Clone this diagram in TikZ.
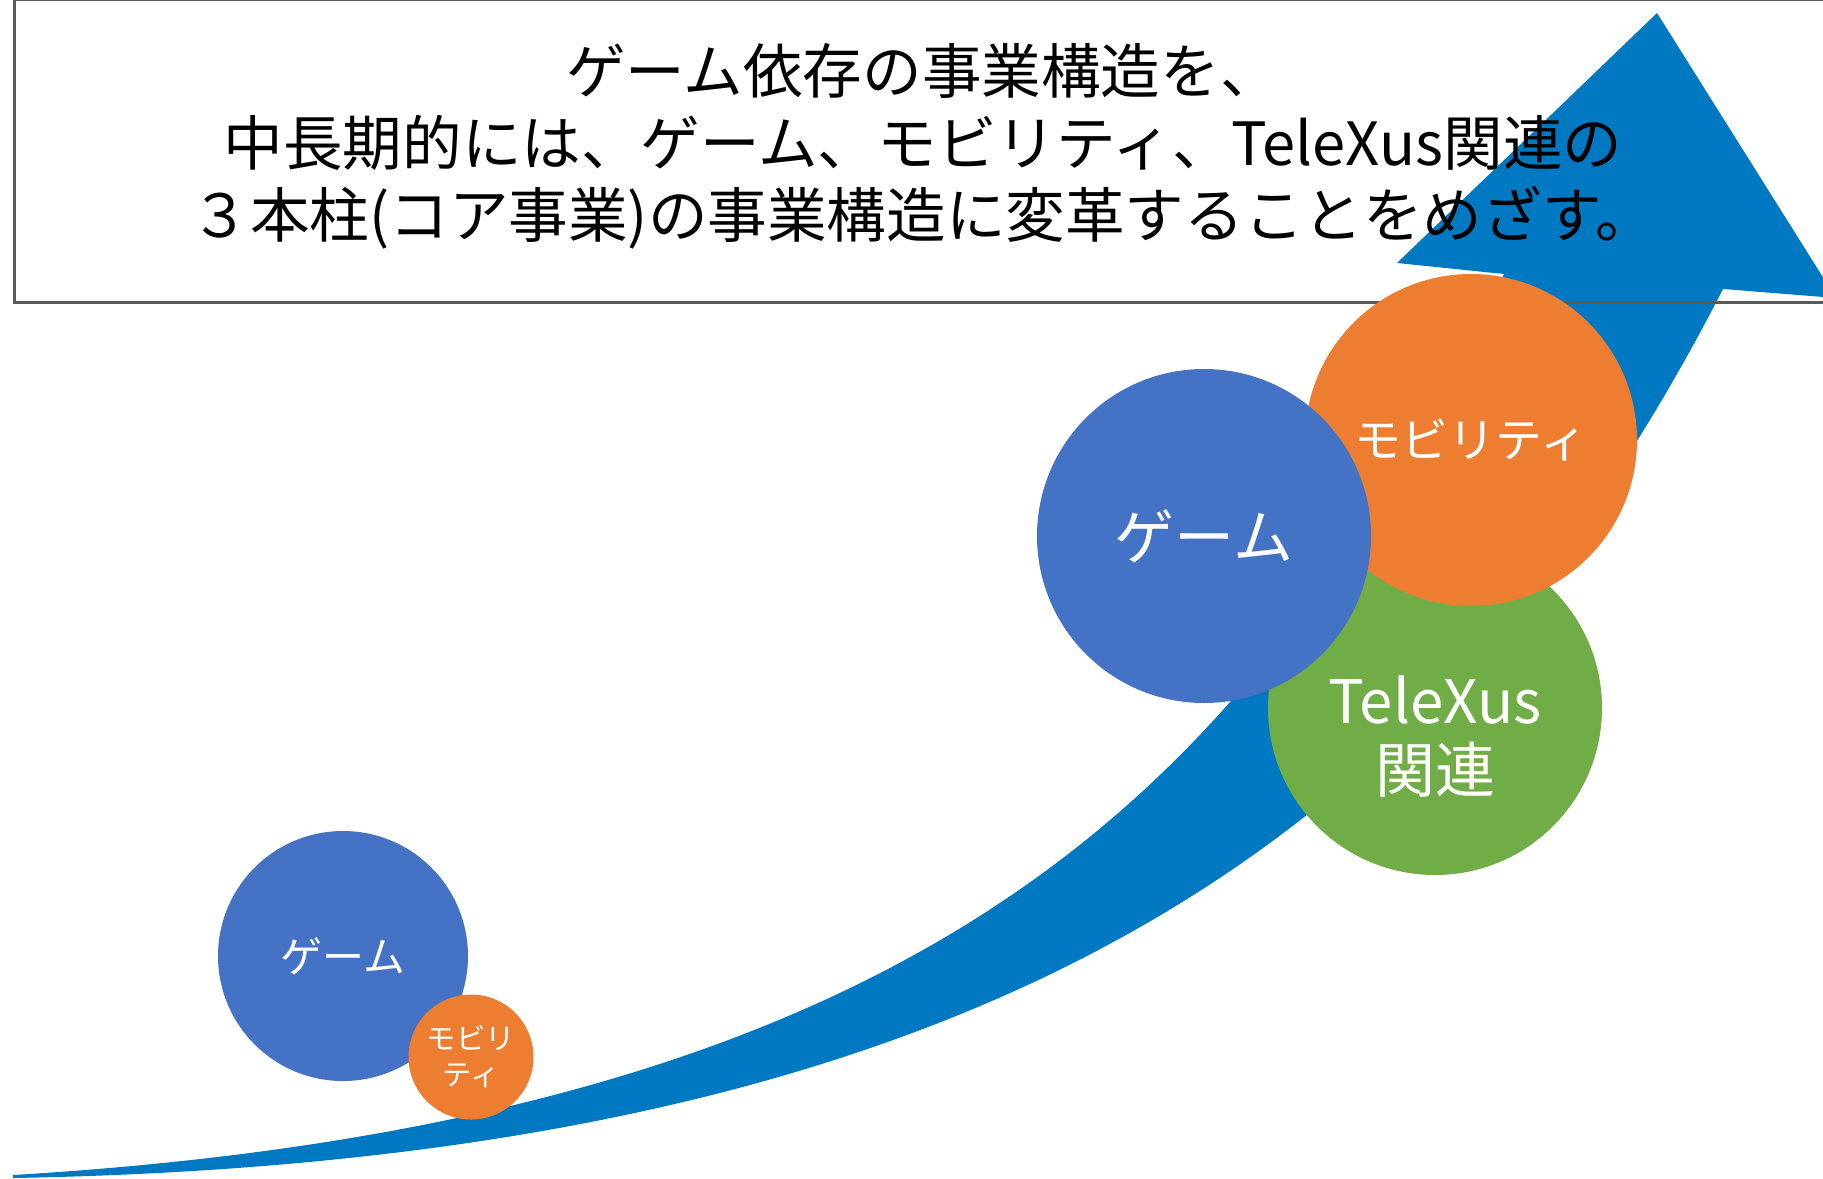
\documentclass[tikz,border=0pt]{standalone}
\usepackage{fontspec}
\setmainfont{Noto Sans CJK JP}
\usepackage{tikz}
\usetikzlibrary{positioning}

\definecolor{arrowblue}{RGB}{0,121,194}
\definecolor{gameblue}{RGB}{68,114,196}
\definecolor{mobiorange}{RGB}{237,125,49}
\definecolor{telegreen}{RGB}{112,173,71}
\definecolor{framegray}{RGB}{89,89,89}

\tikzset{
  pillar/.style={circle,inner sep=0pt,text=white,align=center},
}

\begin{document}
\begin{tikzpicture}[x=0.5pt,y=0.5pt,yscale=-1,xscale=1]
  \useasboundingbox (0,0) rectangle (1823,1178);
  \clip (0,0) rectangle (1823,1178);

  %Shape: Curved arrow
  \fill [arrowblue] (1504,274) -- (1397,263) -- (1657,13) -- (1836,298) -- (1723,289) .. controls (1449,823) and (1013,1160) .. (13,1178) -- (13,1175) .. controls (1013,1115) and (1276,720) .. (1504,274) -- cycle ;

  %Shape: Rectangle
  \draw [framegray,line width=1.5pt] (14,-0.5) rectangle (1840,302) ;

  % Text Node
  \draw (923,146) node (title) [align=center,inner sep=0.75pt,font=\fontsize{29.8}{36}\selectfont] {ゲーム依存の事業構造を、\\中長期的には、ゲーム、モビリティ、TeleXus関連の\\３本柱(コア事業)の事業構造に変革することをめざす。};

  %Shape: Circle
  \node (teleL) [pillar,fill=telegreen,minimum size=167pt] at (1435,708) {};
  % Text Node
  \draw (1435,737) node (teleLtxt) [align=center,inner sep=0.75pt,text=white,font=\fontsize{30}{34.5}\selectfont] {TeleXus\\関連};
  %Shape: Circle
  \node (mobiL) [pillar,fill=mobiorange,minimum size=166pt,font=\fontsize{23.5}{28}\selectfont] at (1471,440) {モビリティ};
  %Shape: Circle
  \node (gameL) [pillar,fill=gameblue,minimum size=167pt,font=\fontsize{30}{36}\selectfont] at (1204,536) {ゲーム};

  %Shape: Circle
  \node (gameS) [pillar,fill=gameblue,minimum size=125pt,font=\fontsize{21}{26}\selectfont] at (343,956) {ゲーム};
  %Shape: Circle
  \node (mobiS) [pillar,fill=mobiorange,minimum size=62.5pt,font=\fontsize{14.7}{18}\selectfont] at (471,1057) {モビリ\\ティ};

\end{tikzpicture}
\end{document}
